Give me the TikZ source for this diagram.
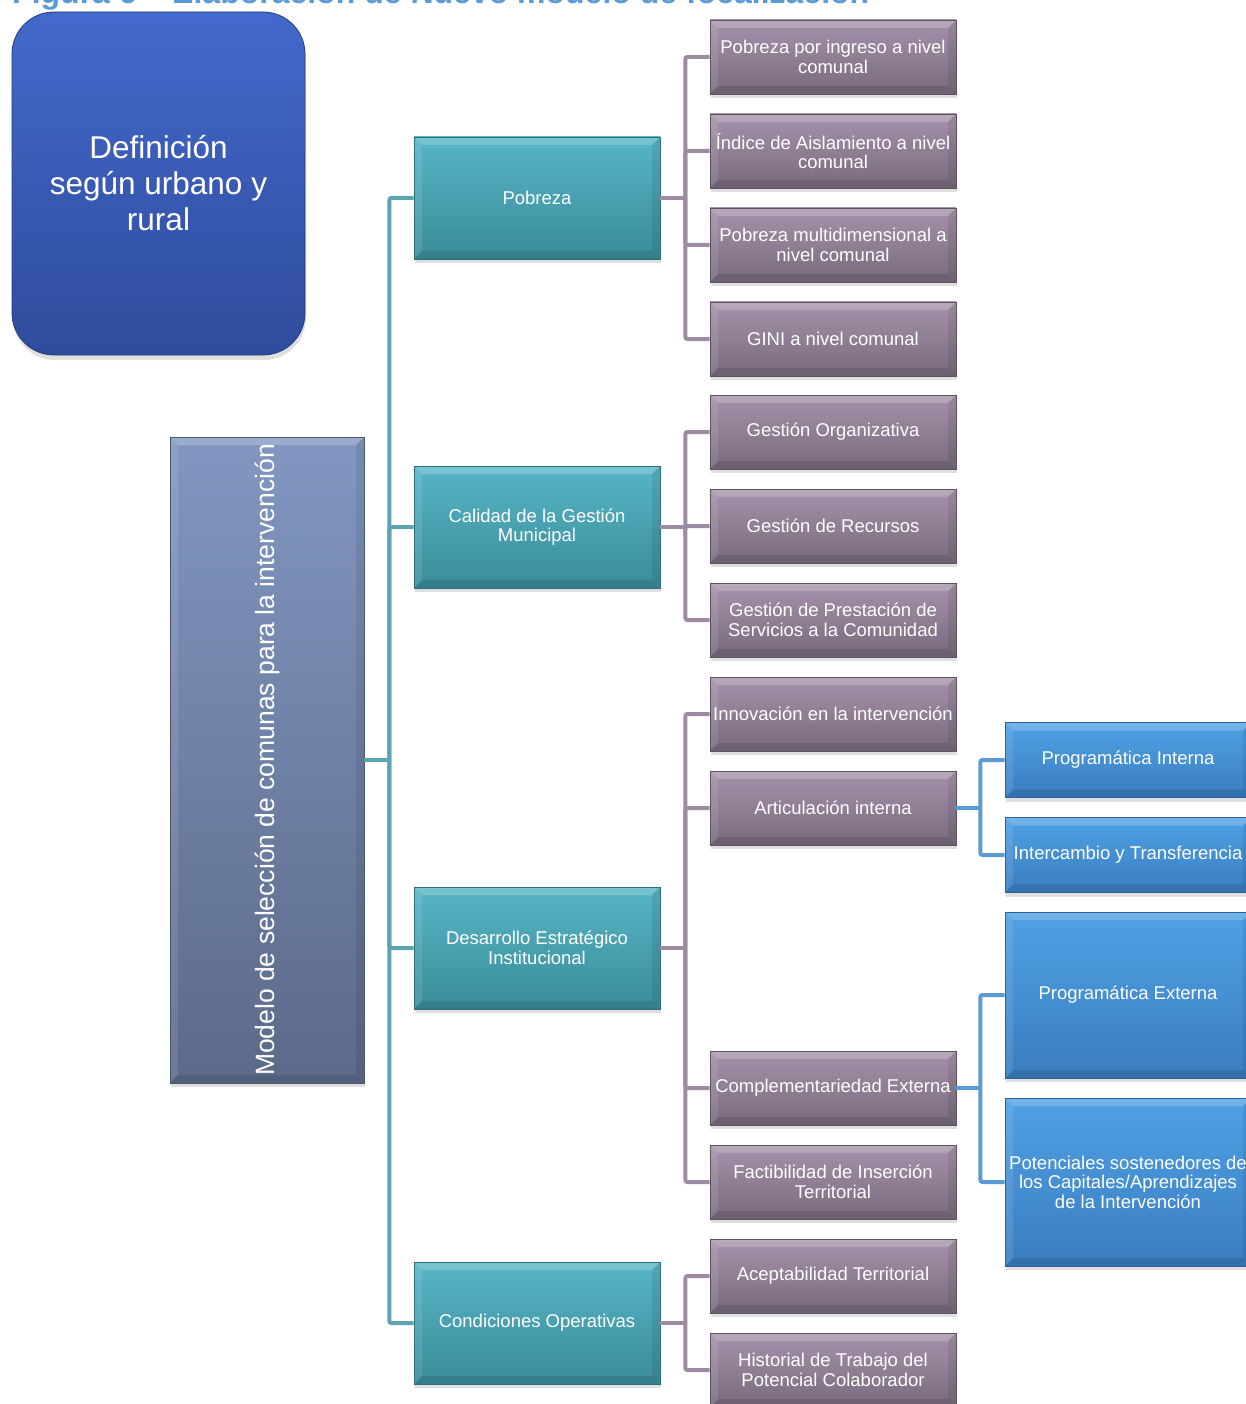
\documentclass[tikz,border=0pt]{standalone}
\usepackage{fontspec}
\setmainfont{Liberation Sans}
\usetikzlibrary{shadows}
\definecolor{titleC}{HTML}{5B9BD5}
\definecolor{defT}{HTML}{4369CC}
\definecolor{defB}{HTML}{2F4C9C}
\definecolor{modT}{HTML}{8197C1}
\definecolor{modB}{HTML}{5C6A89}
\definecolor{tealT}{HTML}{56B5C6}
\definecolor{tealB}{HTML}{3B8C99}
\definecolor{tealD}{HTML}{2F6F79}
\definecolor{purT}{HTML}{A692AB}
\definecolor{purB}{HTML}{786A7D}
\definecolor{purD}{HTML}{5E5262}
\definecolor{bluT}{HTML}{4FA1E5}
\definecolor{bluB}{HTML}{3A7DBF}
\definecolor{bluD}{HTML}{2C6296}
\definecolor{tealL}{HTML}{5AA5B1}
\definecolor{purL}{HTML}{9D8BA1}
\definecolor{bluL}{HTML}{5B9BD5}
\begin{document}
\begin{tikzpicture}[x=1pt,y=-1pt,
  bevel/.style={path picture={
    \fill[white,opacity=0.2] (path picture bounding box.north west) -- (path picture bounding box.north east)
      -- ([xshift=-8pt,yshift=-8pt]path picture bounding box.north east) -- ([xshift=8pt,yshift=-8pt]path picture bounding box.north west) -- cycle;
    \fill[white,opacity=0.1] (path picture bounding box.north west) -- ([xshift=8pt,yshift=-8pt]path picture bounding box.north west)
      -- ([xshift=8pt,yshift=8pt]path picture bounding box.south west) -- (path picture bounding box.south west) -- cycle;
    \fill[black,opacity=0.1] (path picture bounding box.south west) -- (path picture bounding box.south east)
      -- ([xshift=-8pt,yshift=8pt]path picture bounding box.south east) -- ([xshift=8pt,yshift=8pt]path picture bounding box.south west) -- cycle;
    \fill[black,opacity=0.08] (path picture bounding box.north east) -- ([xshift=-8pt,yshift=-8pt]path picture bounding box.north east)
      -- ([xshift=-8pt,yshift=8pt]path picture bounding box.south east) -- (path picture bounding box.south east) -- cycle;}},
  base/.style={rectangle, inner sep=0pt, align=center, text=white,
    font=\fontsize{18.5}{19.5}\selectfont, line width=0.8pt,
    drop shadow={shadow xshift=1pt, shadow yshift=-4pt, opacity=0.25}, bevel},
  tealbox/.style={base, minimum width=246pt, minimum height=122pt, top color=tealT, bottom color=tealB, draw=tealD},
  purbox/.style={base, minimum width=246pt, minimum height=74pt, top color=purT, bottom color=purB, draw=purD},
  blubox/.style={base, minimum width=246pt, top color=bluT, bottom color=bluB, draw=bluD},
  tline/.style={draw=tealL, line width=4pt, rounded corners=2pt},
  pline/.style={draw=purL, line width=4pt, rounded corners=2pt},
  bline/.style={draw=bluL, line width=4pt, rounded corners=2pt}]
\useasboundingbox (0,0) rectangle (1246,1404);
\clip (0,0) rectangle (1246,1404);

\node[anchor=base west, inner sep=0pt, text=titleC, font=\bfseries\fontsize{32}{36}\selectfont] (title) at (12,4)
  {Figura 6 – Elaboración de Nuevo modelo de focalización};

\node[rectangle, rounded corners=42pt, minimum width=293pt, minimum height=343pt, inner sep=0pt,
  top color=defT, bottom color=defB, draw=defB!80!black, line width=0.8pt, text=white, align=center,
  font=\fontsize{31.5}{36}\selectfont,
  drop shadow={shadow xshift=1pt, shadow yshift=-5pt, opacity=0.25}] (def) at (158.5,183.5)
  {Definición\\según urbano y\\rural};

\node[base, minimum width=194pt, minimum height=646pt, top color=modT, bottom color=modB, draw=modB!80!black] (modelo) at (267,760) {};
\node[rotate=90, text=white, inner sep=0pt, font=\fontsize{26.5}{30}\selectfont] (modtxt) at (modelo.center)
  {Modelo de selección de comunas para la intervención};

% level 1
\node[tealbox] (pob) at (537,198) {Pobreza};
\node[tealbox] (cal) at (537,527) {Calidad de la Gestión\\Municipal};
\node[tealbox] (des) at (537,948) {Desarrollo Estratégico\\Institucional};
\node[tealbox] (con) at (537,1323) {Condiciones Operativas};

% level 2
\node[purbox] (p1) at (833,57) {Pobreza por ingreso a nivel\\comunal};
\node[purbox] (p2) at (833,151) {Índice de Aislamiento a nivel\\comunal};
\node[purbox] (p3) at (833,245) {Pobreza multidimensional a\\nivel comunal};
\node[purbox] (p4) at (833,339) {GINI a nivel comunal};
\node[purbox] (g1) at (833,432) {Gestión Organizativa};
\node[purbox] (g2) at (833,526) {Gestión de Recursos};
\node[purbox] (g3) at (833,620) {Gestión de Prestación de\\Servicios a la Comunidad};
\node[purbox] (d1) at (833,714) {Innovación en la intervención};
\node[purbox] (d2) at (833,808) {Articulación interna};
\node[purbox] (d3) at (833,1088) {Complementariedad Externa};
\node[purbox] (d4) at (833,1182) {Factibilidad de Inserción\\Territorial};
\node[purbox] (c1) at (833,1276) {Aceptabilidad Territorial};
\node[purbox] (c2) at (833,1370) {Historial de Trabajo del\\Potencial Colaborador};

% level 3
\node[blubox, minimum height=75pt] (b1) at (1128,760) {Programática Interna};
\node[blubox, minimum height=75pt] (b2) at (1128,855) {Intercambio y Transferencia};
\node[blubox, minimum height=166pt] (b3) at (1128,995) {Programática Externa};
\node[blubox, minimum height=168pt] (b4) at (1128,1182) {Potenciales sostenedores de\\los Capitales/Aprendizajes\\de la Intervención};

% connectors
\path (modelo.east) -- ++(25,0) coordinate (tb);
\draw[tline] (modelo.east) -- (tb);
\foreach \n in {pob,cal,des,con} \draw[tline] (tb) |- (\n.west);

\path (pob.east) -- ++(25,0) coordinate (pb);
\draw[pline] (pob.east) -- (pb);
\foreach \n in {p1,p2,p3,p4} \draw[pline] (pb) |- (\n.west);

\path (cal.east) -- ++(25,0) coordinate (cb);
\draw[pline] (cal.east) -- (cb);
\foreach \n in {g1,g2,g3} \draw[pline] (cb) |- (\n.west);

\path (des.east) -- ++(25,0) coordinate (db);
\draw[pline] (des.east) -- (db);
\foreach \n in {d1,d2,d3,d4} \draw[pline] (db) |- (\n.west);

\path (con.east) -- ++(25,0) coordinate (ob);
\draw[pline] (con.east) -- (ob);
\foreach \n in {c1,c2} \draw[pline] (ob) |- (\n.west);

\path (d2.east) -- ++(24,0) coordinate (ab);
\draw[bline] (d2.east) -- (ab);
\foreach \n in {b1,b2} \draw[bline] (ab) |- (\n.west);

\path (d3.east) -- ++(24,0) coordinate (eb);
\draw[bline] (d3.east) -- (eb);
\foreach \n in {b3,b4} \draw[bline] (eb) |- (\n.west);
\end{tikzpicture}
\end{document}
